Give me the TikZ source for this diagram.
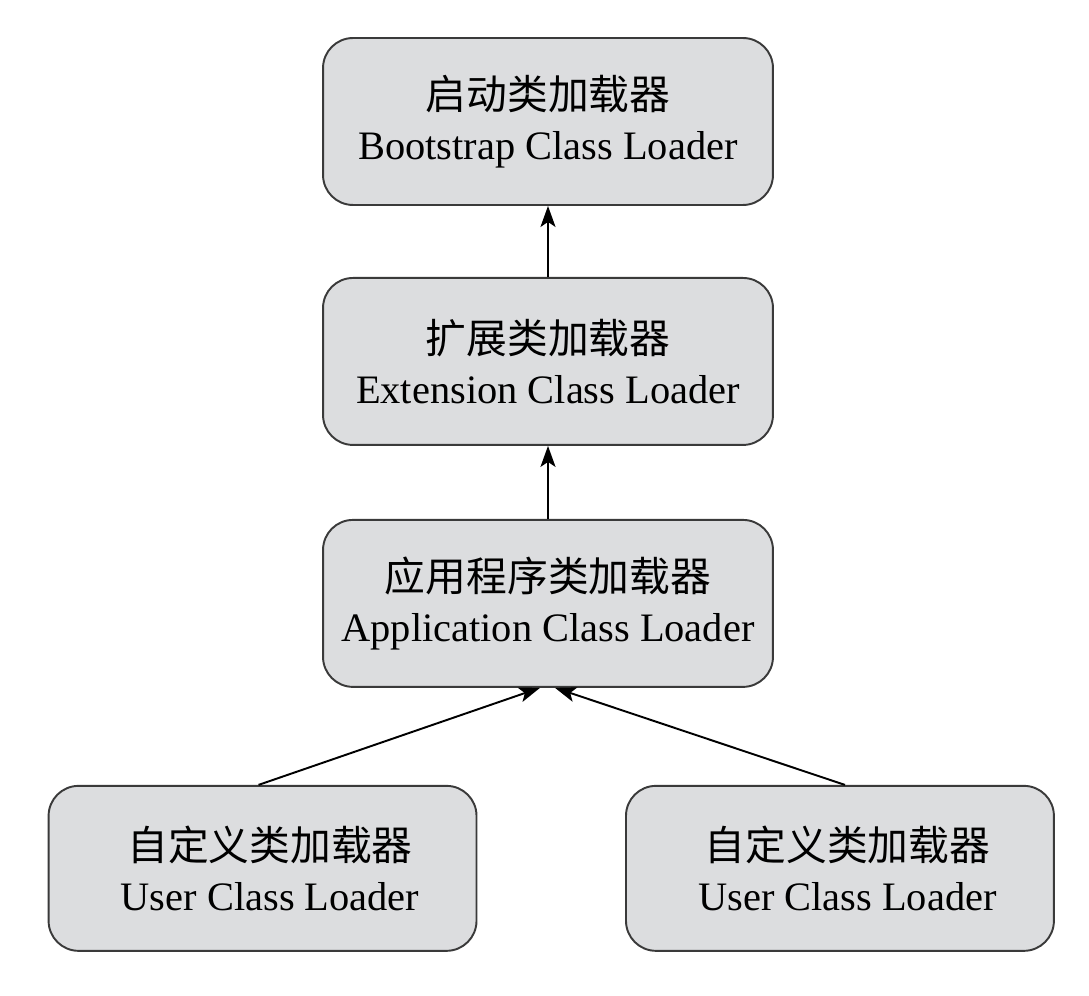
\documentclass[tikz,border=0pt]{standalone}
\usepackage{fontspec}
\setmainfont{Liberation Serif}
\newfontfamily\cjk{Noto Sans CJK SC}
\usepackage{tikz}
\usetikzlibrary{positioning,arrows.meta,calc}
\definecolor{boxgray}{HTML}{DCDDDF}
\definecolor{edgegray}{HTML}{3A3A3A}
\tikzstyle{loader}=[rectangle, rounded corners=0.6cm, draw=edgegray, line width=1.1pt, fill=boxgray, align=center, minimum width=9cm, minimum height=3.34cm, inner sep=0pt, font=\fontsize{23}{28.5}\selectfont]
\tikzstyle{user}=[loader, minimum width=8.56cm, minimum height=3.3cm]
\newcommand{\zh}[1]{{\cjk\fontsize{23.2}{28.5}\selectfont #1}}

\begin{document}
\begin{tikzpicture}[x=0.02cm,y=-0.02cm,node distance=4.8cm,on grid,>={Stealth[length=0.42cm,width=0.3cm,inset=0.1cm]}]
	\useasboundingbox (0,0) rectangle (1089,996);
	\node[loader] (boot) at (548,121.5) {\zh{启动类加载器}\\Bootstrap Class Loader};
	\node[loader, below=of boot] (ext) {\zh{扩展类加载器}\\Extension Class Loader};
	\node[loader, below=4.84cm of ext] (app) {\zh{应用程序类加载器}\\Application Class Loader};
	\node[user, below left=5.3cm and 5.71cm of app] (userl) {\hspace*{0.3cm}\zh{自定义类加载器}\\\hspace*{0.3cm}User Class Loader};
	\node[user, below right=5.3cm and 5.84cm of app] (userr) {\hspace*{0.3cm}\zh{自定义类加载器}\\\hspace*{0.3cm}User Class Loader};
	\path[->, line width=1.1pt]
	(ext) edge (boot)
	(app) edge (ext)
	([xshift=-0.08cm]userl.north) edge ([xshift=-0.16cm]app.south)
	([xshift=0.1cm]userr.north) edge ([xshift=0.14cm]app.south);
\end{tikzpicture}
\end{document}
